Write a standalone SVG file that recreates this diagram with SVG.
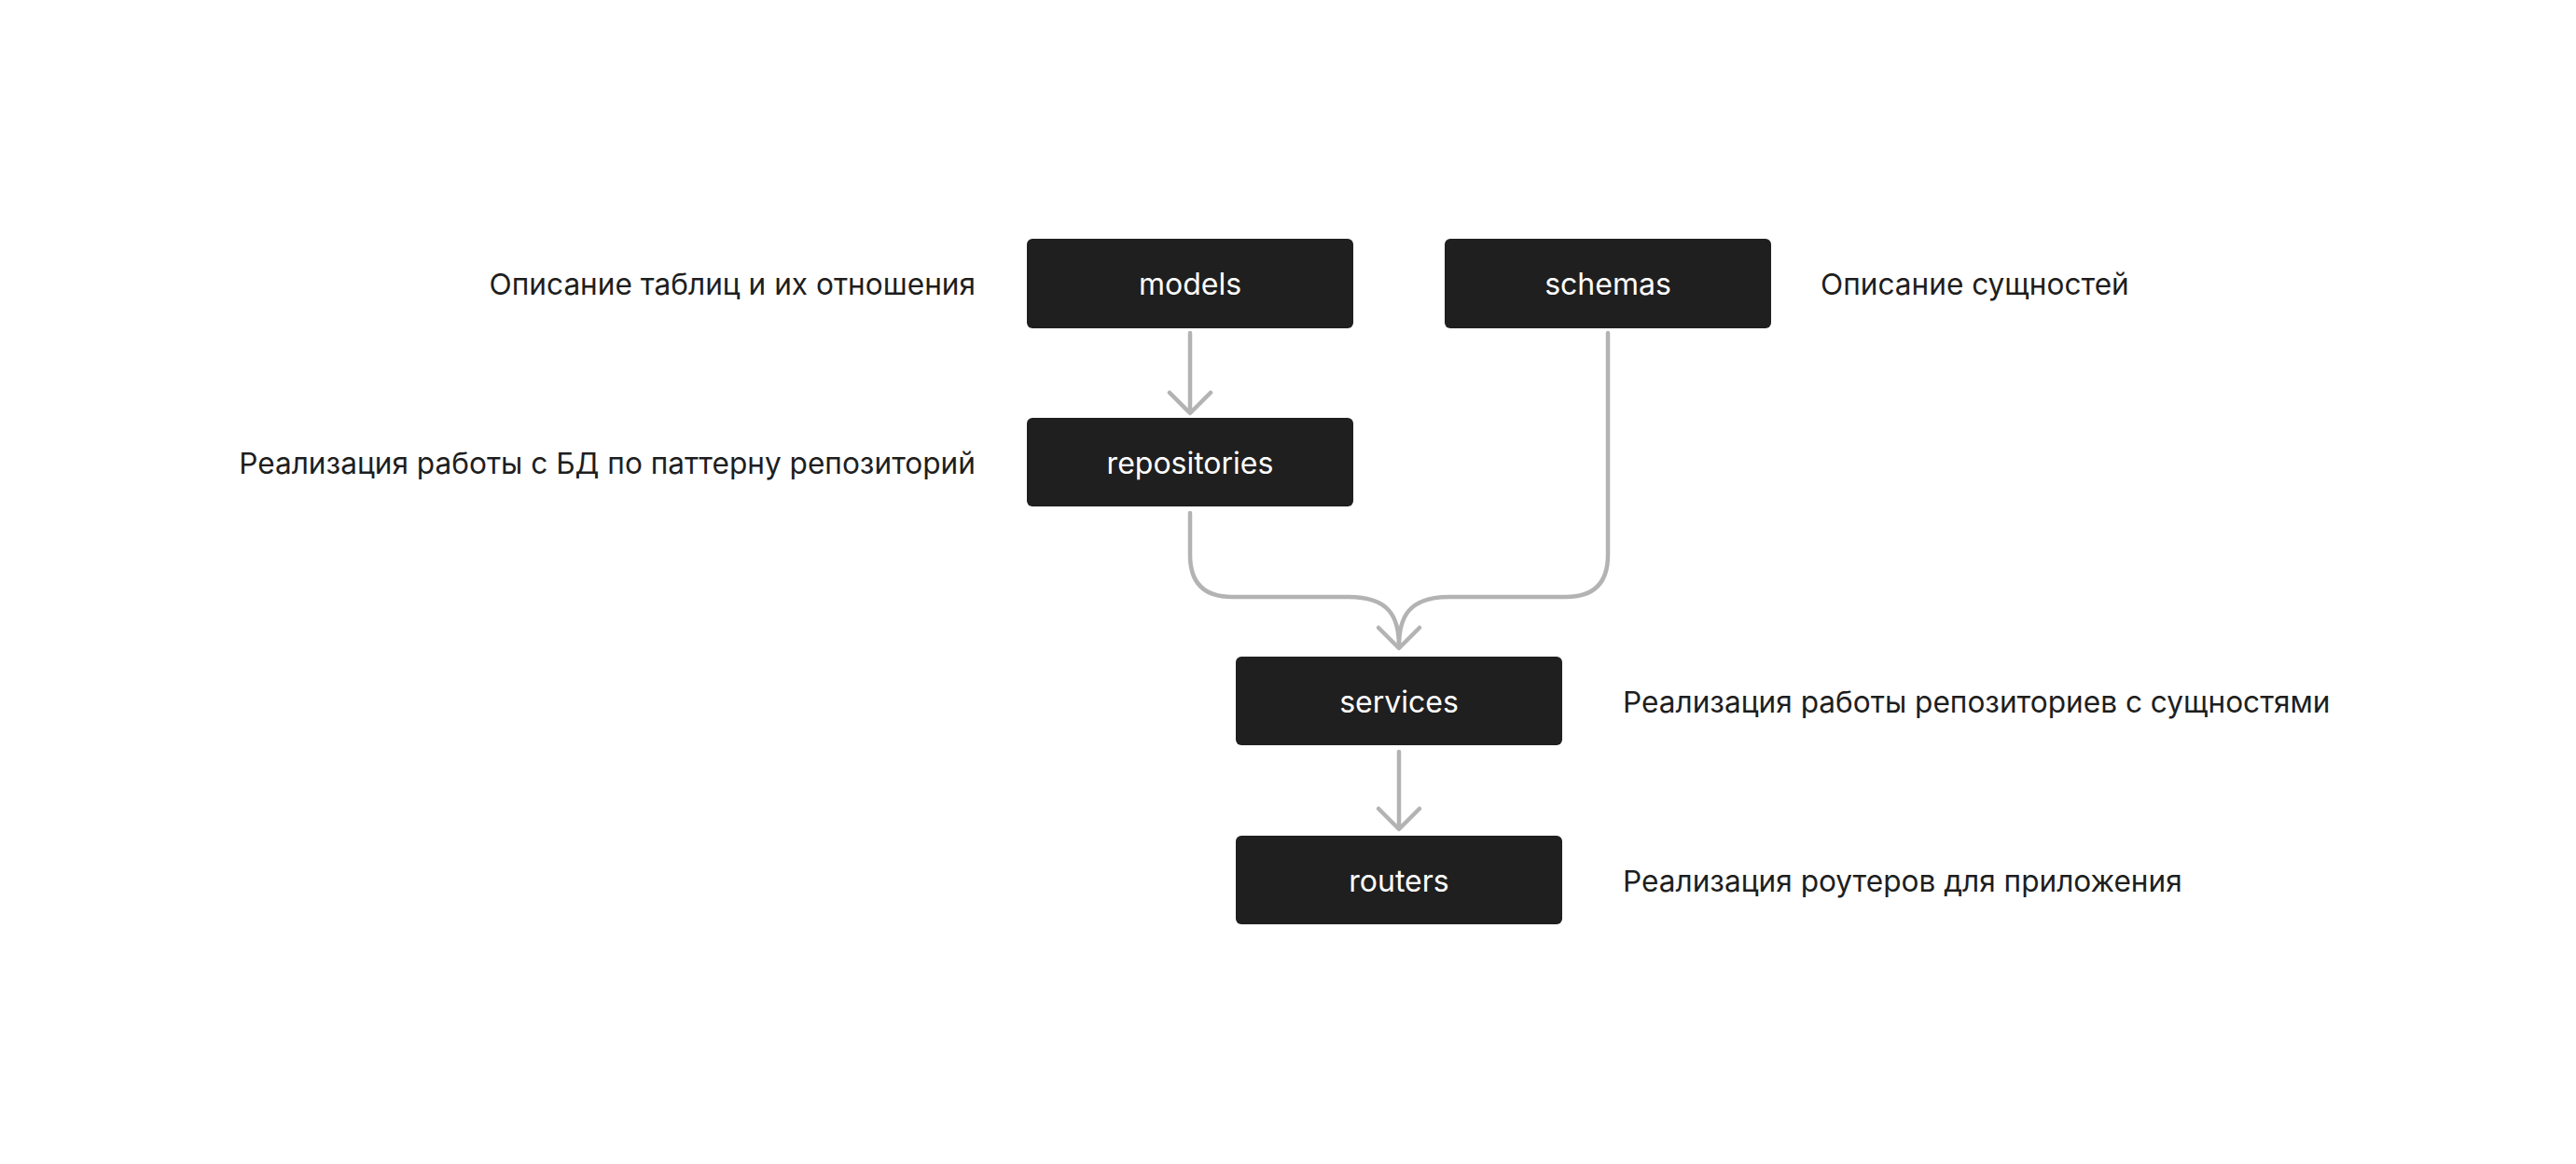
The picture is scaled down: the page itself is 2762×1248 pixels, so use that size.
<svg xmlns="http://www.w3.org/2000/svg" width="2762" height="1248" viewBox="0 0 2762 1248">
<style>
.box{fill:#1f1f1f}
.nl{font-family:Inter,"Noto Sans",sans-serif;font-size:32px;fill:#ffffff;text-anchor:middle;dominant-baseline:central}
.sl{font-family:Inter,"Noto Sans",sans-serif;font-size:31.6px;fill:#1e1e1e;dominant-baseline:central}
.c{fill:none;stroke:#b3b3b3;stroke-width:4.5;stroke-linecap:round;stroke-linejoin:round}
</style>
<rect width="2762" height="1248" fill="#ffffff"/>
<g id="connectors">
<path class="c" d="M1276 357 V440 M1254 421 L1276 443 L1298 421"/>
<path class="c" d="M1276 550 V595 Q1276 640 1321 640 H1446 C1490 640 1500 662 1500 693"/>
<path class="c" d="M1724 357 V595 Q1724 640 1679 640 H1554 C1510 640 1500 662 1500 693"/>
<path class="c" d="M1478 673 L1500 695 L1522 673"/>
<path class="c" d="M1500 806 V888 M1478 867 L1500 889 L1522 867"/>
</g>
<g id="models">
<rect class="box" x="1101" y="256" width="350" height="96" rx="6"/>
<text class="nl" x="1276" y="304">models</text>
</g>
<g id="schemas">
<rect class="box" x="1549" y="256" width="350" height="96" rx="6"/>
<text class="nl" x="1724" y="304">schemas</text>
</g>
<g id="repositories">
<rect class="box" x="1101" y="448" width="350" height="95" rx="6"/>
<text class="nl" x="1276" y="496">repositories</text>
</g>
<g id="services">
<rect class="box" x="1325" y="704" width="350" height="95" rx="6"/>
<text class="nl" x="1500" y="752">services</text>
</g>
<g id="routers">
<rect class="box" x="1325" y="896" width="350" height="95" rx="6"/>
<text class="nl" x="1500" y="944">routers</text>
</g>
<g id="labels">
<text class="sl" x="1046" y="304" text-anchor="end">Описание таблиц и их отношения</text>
<text class="sl" x="1046" y="496" text-anchor="end">Реализация работы с БД по паттерну репозиторий</text>
<text class="sl" x="1952" y="304">Описание сущностей</text>
<text class="sl" x="1740" y="752">Реализация работы репозиториев с сущностями</text>
<text class="sl" x="1740" y="944">Реализация роутеров для приложения</text>
</g>
</svg>
